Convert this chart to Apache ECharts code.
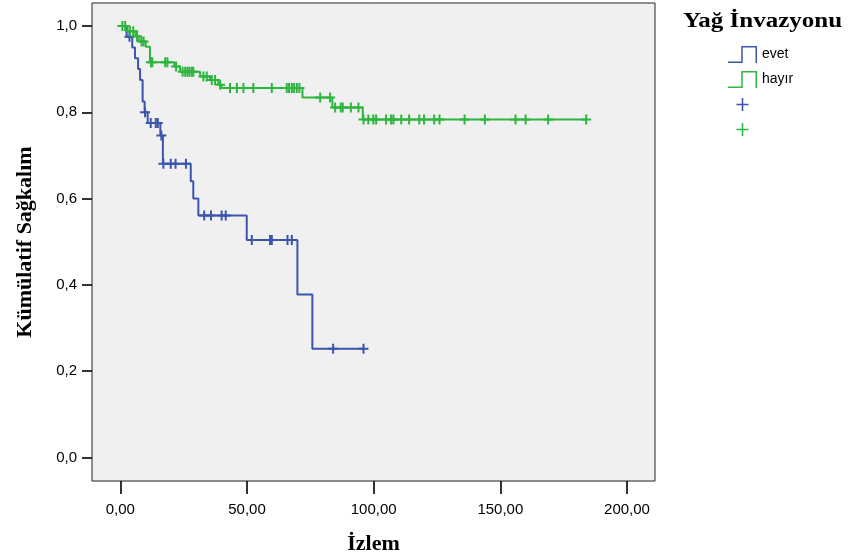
<!DOCTYPE html>
<html><head><meta charset="utf-8">
<script src="https://cdn.jsdelivr.net/npm/echarts@6/dist/echarts.min.js"></script>
<style>html,body{margin:0;padding:0;background:#fff}#c{width:850px;height:560px}</style>
</head><body><div id="c"></div>
<script>
// ---- data ----
const groupNames = ['evet', 'hayır'];
const censorNames = ['evet (sansürlü)', 'hayır (sansürlü)'];
const xTicks = [0, 50, 100, 150, 200];
const xTickLabels = ['0,00', '50,00', '100,00', '150,00', '200,00'];
const yTicks = [0, 0.2, 0.4, 0.6, 0.8, 1.0];
const yTickLabels = ['0,0', '0,2', '0,4', '0,6', '0,8', '1,0'];

const evetEventTimes = [0, 2.5, 4.7, 5.8, 7.0, 7.8, 8.8, 9.6, 10.8, 15.8, 16.8, 27.8, 28.8, 30.8, 49.9, 69.9, 75.8];
const evetSurvival   = [1, 0.975, 0.950, 0.925, 0.900, 0.875, 0.825, 0.800, 0.775, 0.746, 0.681, 0.640, 0.600, 0.561, 0.504, 0.378, 0.252];
const evetCensorTimes = [3.6, 9.75, 12.0, 14.0, 14.8, 16.2, 17.0, 19.9, 21.8, 25.9, 33.1, 35.8, 40.0, 41.6, 51.9, 59.1, 59.8, 66.0, 67.7, 84.0, 96.0];

const hayirEventTimes = [0, 2.8, 6.0, 7.5, 10.0, 11.7, 21.3, 23.6, 31.5, 35.4, 38.7, 40.0, 71.9, 83.7, 95.7];
const hayirSurvival   = [1, 0.988, 0.976, 0.964, 0.952, 0.916, 0.906, 0.894, 0.883, 0.875, 0.864, 0.856, 0.834, 0.811, 0.783];
const hayirCensorTimes = [0.8, 1.9, 3.8, 5.1, 6.6, 8.4, 9.2, 12.1, 12.6, 17.7, 18.6, 22.0, 24.6, 25.6, 26.5, 27.3, 28.2, 28.8, 32.8, 34.1, 36.1, 37.4, 39.4, 43.3, 46.0, 48.6, 52.5, 59.8, 65.7, 66.6, 67.7, 68.6, 69.7, 70.7, 78.9, 82.8, 84.8, 87.0, 87.8, 91.0, 94.0, 96.0, 97.9, 99.9, 101.0, 104.9, 106.9, 107.8, 110.9, 114.0, 118.0, 119.9, 123.9, 126.0, 135.9, 143.9, 156.0, 160.0, 168.9, 183.9];

const colors = ['#3b55ad', '#2eb53f'];

// ---- helpers ----
function survAt(times, surv, t) {
  let s = surv[0];
  for (let i = 0; i < times.length; i++) { if (times[i] <= t) s = surv[i]; }
  return s;
}
function lineData(times, surv, censors) {
  const d = times.map((t, i) => [t, surv[i]]);
  const last = censors[censors.length - 1];
  d.push([last, survAt(times, surv, last)]);
  return d;
}
function censorData(times, surv, censors) {
  return censors.map(t => [t, survAt(times, surv, t)]);
}

const crossSymbol = 'path://M-1,-5L1,-5L1,5L-1,5Z M-5,-1L5,-1L5,1L-5,1Z';
const crossLegend = 'path://M-8.5,-8.5L-8.5,-8.5 M8.5,8.5L8.5,8.5 M-0.8,-6.5L0.8,-6.5L0.8,6.5L-0.8,6.5Z M-6,-0.8L6,-0.8L6,0.8L-6,0.8Z';
const stepIcon = 'path://M0,15.5L13.25,15.5L13.25,0L29,0L29,17L27.5,17L27.5,1.5L14.75,1.5L14.75,17L0,17Z';

const chart = echarts.init(document.getElementById('c'), null, {renderer: 'canvas'});
const serif = 'Liberation Serif';
const sans = 'Liberation Sans';

chart.setOption({
  animation: false,
  backgroundColor: '#ffffff',
  grid: {left: 92, top: 3, width: 563, height: 479, show: true, backgroundColor: '#f0f0f0', borderColor: '#222', borderWidth: 1, containLabel: false},
  xAxis: {
    type: 'value', min: -11.18, max: 211.06,
    axisLine: {show: false, onZero: false},
    splitLine: {show: false},
    axisTick: {show: true, customValues: xTicks, length: 13, lineStyle: {color: '#000', width: 1.6}},
    axisLabel: {customValues: xTicks, margin: 21, fontSize: 15, fontFamily: sans, color: '#000',
      formatter: v => xTickLabels[xTicks.indexOf(Math.round(v))]},
    name: 'İzlem', nameLocation: 'middle', nameGap: 52,
    nameTextStyle: {fontFamily: serif, fontWeight: 'bold', fontSize: 22, color: '#000'}
  },
  yAxis: {
    type: 'value', min: -0.0543, max: 1.0532,
    axisLine: {show: false, onZero: false},
    splitLine: {show: false},
    axisTick: {show: true, customValues: yTicks, length: 10, lineStyle: {color: '#000', width: 1.6}},
    axisLabel: {customValues: yTicks, margin: 15, fontSize: 15, fontFamily: sans, color: '#000',
      formatter: v => yTickLabels[yTicks.findIndex(t => Math.abs(t - v) < 1e-6)]},
    name: 'Kümülatif Sağkalım', nameLocation: 'middle', nameGap: 56, nameRotate: 90,
    nameTextStyle: {fontFamily: serif, fontWeight: 'bold', fontSize: 22, color: '#000'}
  },
  legend: {
    orient: 'vertical', left: 723, top: 41, itemWidth: 29, itemHeight: 17, itemGap: 8,
    selectedMode: false,
    itemStyle: {borderWidth: 0},
    data: [
      {name: groupNames[0], icon: stepIcon},
      {name: groupNames[1], icon: stepIcon},
      {name: censorNames[0], icon: crossLegend},
      {name: censorNames[1], icon: crossLegend}
    ],
    formatter: n => (groupNames.indexOf(n) >= 0 ? n : ''),
    textStyle: {fontFamily: sans, fontSize: 14, color: '#000'}
  },
  graphic: [{
    type: 'text', x: 683, y: 12, scaleX: 1.25,
    style: {text: 'Yağ İnvazyonu', fontFamily: serif, fontWeight: 'bold', fontSize: 20, fill: '#000', verticalAlign: 'top', align: 'left'}
  }],
  series: [
    {name: groupNames[0], type: 'line', step: 'end', showSymbol: false, symbol: 'none', color: colors[0],
      lineStyle: {width: 2, color: colors[0]}, data: lineData(evetEventTimes, evetSurvival, evetCensorTimes), z: 2},
    {name: groupNames[1], type: 'line', step: 'end', showSymbol: false, symbol: 'none', color: colors[1],
      lineStyle: {width: 2, color: colors[1]}, data: lineData(hayirEventTimes, hayirSurvival, hayirCensorTimes), z: 4},
    {name: censorNames[0], type: 'scatter', symbol: crossSymbol, symbolSize: 10, color: colors[0],
      itemStyle: {color: colors[0], opacity: 1}, data: censorData(evetEventTimes, evetSurvival, evetCensorTimes), z: 3},
    {name: censorNames[1], type: 'scatter', symbol: crossSymbol, symbolSize: 10, color: colors[1],
      itemStyle: {color: colors[1], opacity: 1}, data: censorData(hayirEventTimes, hayirSurvival, hayirCensorTimes), z: 5}
  ]
});
</script></body></html>
